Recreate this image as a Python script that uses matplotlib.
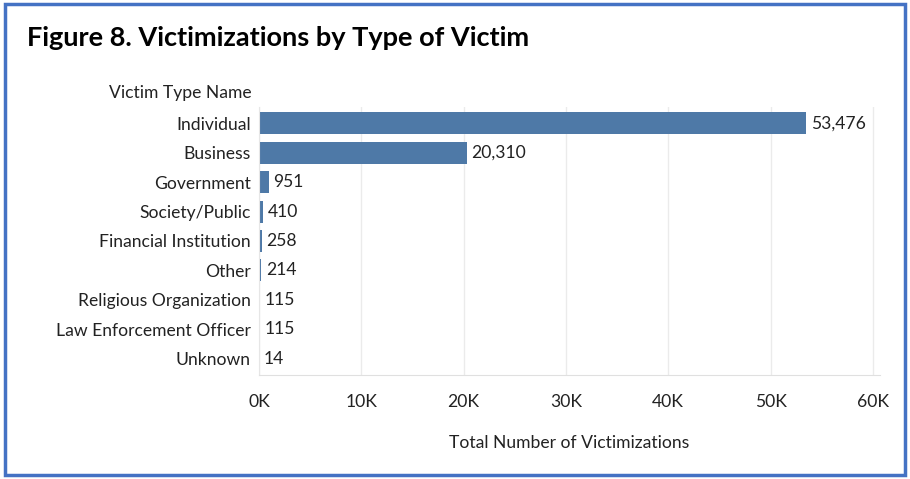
import matplotlib
matplotlib.use("Agg")
import matplotlib.pyplot as plt
from matplotlib.patches import Rectangle
from matplotlib.ticker import FuncFormatter

# data
victim_types = ["Individual", "Business", "Government", "Society/Public",
                "Financial Institution", "Other", "Religious Organization",
                "Law Enforcement Officer", "Unknown"]
victimizations = [53476, 20310, 951, 410, 258, 214, 115, 115, 14]
x_ticks = [0, 10000, 20000, 30000, 40000, 50000, 60000]

BAR = "#4e79a7"
FONT = "Lato"
FS = 12.6
W, H = 910, 479

fig = plt.figure(figsize=(W / 100, H / 100), dpi=100)
# axes box in pixel coords: left 259, right 880, top 107, bottom 375
ax = fig.add_axes([259 / W, 1 - 375 / H, (880 - 259) / W, (375 - 107) / H])

y = list(range(len(victim_types)))
ax.barh(y, victimizations, height=0.75, color=BAR, zorder=2)
for yi, v in zip(y, victimizations):
    ax.text(v + 450, yi, f"{v:,}", va="center", ha="left",
            fontsize=FS, family=FONT, color="#222222")

ax.set_ylim(len(victim_types) - 0.45, -0.55)
ax.set_xlim(0, 60700)
ax.set_yticks(y)
ax.set_yticklabels(victim_types, family=FONT, fontsize=FS, color="#222222")
ax.set_xticks(x_ticks)
ax.xaxis.set_major_formatter(FuncFormatter(lambda v, _: f"{v / 1000:.0f}K"))
for lab in ax.get_xticklabels():
    lab.set_family(FONT)
    lab.set_fontsize(FS)
    lab.set_color("#222222")
ax.tick_params(length=0, pad=6)
ax.tick_params(axis="x", pad=14)
ax.grid(axis="x", color="#ebebeb", lw=1, zorder=0)
for s in ["top", "right"]:
    ax.spines[s].set_visible(False)
ax.spines["left"].set_color("#e6e6e6")
ax.spines["bottom"].set_color("#e0e0e0")
ax.set_xlabel("Total Number of Victimizations", family=FONT, fontsize=FS,
              color="#222222", labelpad=18)

fig.text(252 / W, 1 - 93 / H, "Victim Type Name", ha="right", va="center",
         family=FONT, fontsize=FS, color="#222222")
fig.text(27 / W, 1 - 38 / H, "Figure 8. Victimizations by Type of Victim",
         ha="left", va="center", family=FONT, fontsize=19.5, weight="bold",
         color="black")

# blue frame around the whole picture
fig.patches.append(Rectangle((5 / W, 4 / H), 1 - 10 / W, 1 - 8 / H,
                             transform=fig.transFigure, fill=False,
                             edgecolor="#4472c4", lw=2.5))

fig.savefig("out.png", dpi=100)
